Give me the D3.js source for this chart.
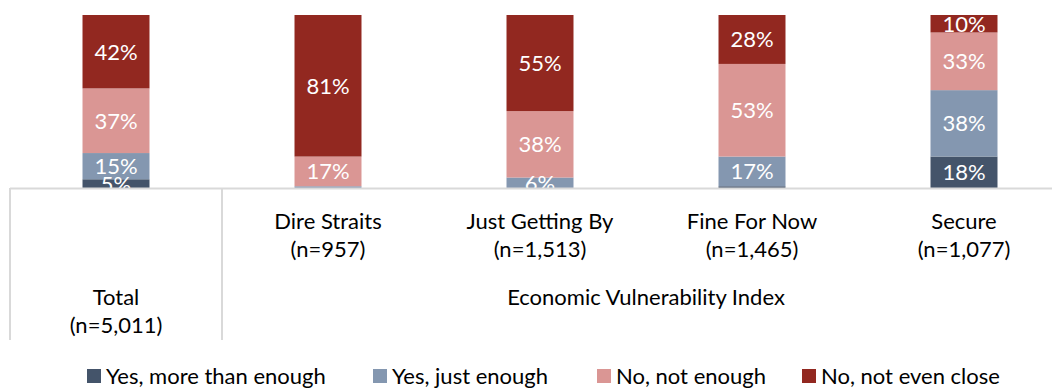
<!DOCTYPE html>
<html>
  <head>
    <meta charset="utf-8">
    <title>Economic Vulnerability Index</title>
    <script src="https://d3js.org/d3.v7.min.js"></script>
    <style>
      body { margin: 0; background: #fff; }
      text { font-family: Lato, "Open Sans", sans-serif; }
    </style>
  </head>
  <body>
    <div id="chart"></div>
    <script>
      // Categories and counts
      var categories = ["Total", "Dire Straits", "Just Getting By", "Fine For Now", "Secure"];
      var counts = ["(n=5,011)", "(n=957)", "(n=1,513)", "(n=1,465)", "(n=1,077)"];
      var seriesNames = ["Yes, more than enough", "Yes, just enough", "No, not enough", "No, not even close"];

      // Percent values by series (same order as categories)
      var moreThanEnough = [5, 0, 0, 1, 18];
      var justEnough     = [15, 1, 6, 17, 38];
      var notEnough      = [37, 17, 38, 53, 33];
      var notEvenClose   = [42, 81, 55, 28, 10];

      var colors = ["#44546a", "#8497b0", "#da9694", "#922820"];

      var width = 1052, height = 388;
      var baseY = 188, topY = 15;

      var svg = d3.select("#chart")
        .append("svg")
          .attr("width", width)
          .attr("height", height);

      // one slot per category; bars sit in the middle of each slot
      var x = d3.scaleBand()
        .domain(categories)
        .range([10, 1070])
        .padding(0);
      var barW = x.bandwidth() * 0.316;

      var y = d3.scaleLinear()
        .domain([0, 1])
        .range([baseY, topY]);

      var table = categories.map(function(c, i) {
        return {
          cat: c,
          s0: moreThanEnough[i],
          s1: justEnough[i],
          s2: notEnough[i],
          s3: notEvenClose[i]
        };
      });

      var stack = d3.stack()
        .keys(["s0", "s1", "s2", "s3"])
        .offset(d3.stackOffsetExpand);
      var layers = stack(table);

      var groups = svg.selectAll("g.layer")
        .data(layers)
        .enter()
        .append("g")
          .attr("class", "layer")
          .attr("fill", function(d, i) { return colors[i]; });

      groups.selectAll("rect")
        .data(function(d) { return d; })
        .enter()
        .append("rect")
          .attr("x", function(d) { return x(d.data.cat) + (x.bandwidth() - barW) / 2; })
          .attr("y", function(d) { return y(d[1]); })
          .attr("width", barW)
          .attr("height", function(d) { return y(d[0]) - y(d[1]); });

      // data labels
      layers.forEach(function(layer, li) {
        svg.append("g")
          .selectAll("text")
          .data(layer.filter(function(d) { return d.data[layer.key] >= 3; }))
          .enter()
          .append("text")
            .attr("x", function(d) { return x(d.data.cat) + x.bandwidth() / 2; })
            .attr("y", function(d) { return (y(d[0]) + y(d[1])) / 2; })
            .attr("dy", "0.36em")
            .attr("text-anchor", "middle")
            .attr("fill", "#fff")
            .style("font-size", "22px")
            .text(function(d) { return d.data[layer.key] + "%"; });
      });

      // category axis
      var axis = svg.append("g")
        .attr("transform", "translate(0," + baseY + ")")
        .call(d3.axisBottom(x).tickSize(0).tickFormat(""));
      axis.select(".domain").attr("stroke", "#d9d9d9").attr("stroke-width", 2)
        .attr("d", "M10,0.5H" + width);

      // table lines of the multi-level axis
      var lineX = [10, x(categories[1])];
      svg.selectAll("line.grid")
        .data(lineX)
        .enter()
        .append("line")
          .attr("x1", function(d) { return d; })
          .attr("x2", function(d) { return d; })
          .attr("y1", baseY)
          .attr("y2", 340)
          .attr("stroke", "#d9d9d9")
          .attr("stroke-width", 2);

      // first level labels (sub-categories)
      categories.forEach(function(c, i) {
        var cx = x(c) + x.bandwidth() / 2;
        var ly = i === 0 ? 297 : 221;
        var t = svg.append("text")
          .attr("x", cx)
          .attr("y", ly)
          .attr("dy", "0.36em")
          .attr("text-anchor", "middle")
          .attr("fill", "#000")
          .style("font-size", "22px");
        t.append("tspan").attr("x", cx).text(c);
        t.append("tspan").attr("x", cx).attr("dy", 28).text(counts[i]);
      });

      // second level label
      svg.append("text")
        .attr("x", (x(categories[1]) + x.range()[1]) / 2)
        .attr("y", 297)
        .attr("dy", "0.36em")
        .attr("text-anchor", "middle")
        .style("font-size", "22px")
        .text("Economic Vulnerability Index");

      // legend
      var legendX = [87, 373, 597, 802];
      var legend = svg.selectAll("g.legend")
        .data(seriesNames)
        .enter()
        .append("g")
          .attr("class", "legend")
          .attr("transform", function(d, i) { return "translate(" + legendX[i] + ",376)"; });
      legend.append("rect")
        .attr("x", 0)
        .attr("y", -7)
        .attr("width", 14)
        .attr("height", 14)
        .attr("fill", function(d, i) { return colors[i]; });
      legend.append("text")
        .attr("x", 19)
        .attr("dy", "0.36em")
        .style("font-size", "22px")
        .text(function(d) { return d; });
    </script>
  </body>
</html>
